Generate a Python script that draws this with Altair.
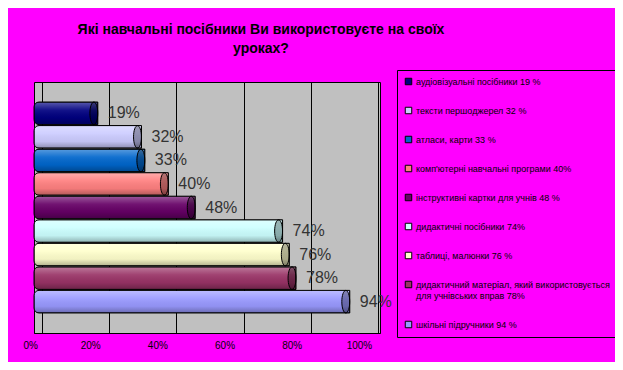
import altair as alt
import pandas as pd

labels = [
    "аудіовізуальні посібники 19 %",
    "тексти першоджерел 32 %",
    "атласи, карти 33 %",
    "комп'ютерні навчальні програми 40%",
    "інструктивні картки для учнів 48 %",
    "дидактичні посібники 74%",
    "таблиці, малюнки 76 %",
    "дидактичний матеріал, який використовується|для учнівських вправ 78%",
    "шкільні підручники 94 %",
]
values = [19, 32, 33, 40, 48, 74, 76, 78, 94]
colors = ["#000080", "#CCCCFF", "#0066CC", "#FF8080", "#660066",
          "#CCFFFF", "#FFFFCC", "#993366", "#9999FF"]
x_ticks = [0, 20, 40, 60, 80, 100]
title_lines = ["Які навчальні посібники Ви використовуєте на своїх", "уроках?"]

df = pd.DataFrame({
    "label": labels,
    "value": values,
    "pct": [f"{v}%" for v in values],
})

FONT = "Liberation Sans"

y_enc = alt.Y("label:N", sort=labels,
              scale=alt.Scale(paddingInner=0.04, paddingOuter=0.85), axis=None)
x_enc = alt.X("value:Q", scale=alt.Scale(domain=[0, 103], nice=False),
              axis=alt.Axis(values=x_ticks, labelExpr="datum.value + '%'",
                            grid=True, gridColor="black", gridWidth=1,
                            ticks=False, tickOffset=8, labelOffset=-19,
                            domainColor="black", labelFontSize=10,
                            labelFont=FONT, labelColor="black",
                            labelPadding=7, title=None))

base = alt.Chart(df)

bars = base.mark_bar(cornerRadiusTopLeft=5, cornerRadiusBottomLeft=5).encode(
    x=x_enc, y=y_enc,
    color=alt.Color("label:N", scale=alt.Scale(domain=labels, range=colors),
                    legend=alt.Legend(
                        orient="none", legendX=363, legendY=-12, title=None,
                        fillColor="#FF00FF", strokeColor="black", padding=7,
                        symbolType="square", symbolSize=42,
                        symbolStrokeColor="black", symbolStrokeWidth=1,
                        labelFont=FONT, labelFontSize=9, labelColor="black",
                        labelLimit=320, rowPadding=18, labelOffset=3,
                        labelExpr="split(datum.label, '|')")),
)

shade = base.mark_bar(
    cornerRadiusTopLeft=5, cornerRadiusBottomLeft=5,
    stroke="black", strokeWidth=1,
    fill=alt.LinearGradient(
        gradient="linear", x1=0, x2=0, y1=0, y2=1,
        stops=[alt.GradientStop(offset=0, color="rgba(255,255,255,0.35)"),
               alt.GradientStop(offset=0.35, color="rgba(255,255,255,0.08)"),
               alt.GradientStop(offset=0.7, color="rgba(0,0,0,0.05)"),
               alt.GradientStop(offset=1, color="rgba(0,0,0,0.3)")]),
).encode(x="value:Q", y=alt.Y("label:N", sort=labels))

caps = base.mark_point(
    shape="M0,-1A0.35,1,0,1,1,0,1A0.35,1,0,1,1,0,-1Z",
    size=510, filled=True, fill="black", fillOpacity=0.3,
    stroke="black", strokeOpacity=1, strokeWidth=1, xOffset=-4, opacity=1,
).encode(x="value:Q", y=alt.Y("label:N", sort=labels))

text = base.mark_text(align="left", baseline="middle", dx=10, fontSize=16,
                      font=FONT, color="#333333").encode(
    x="value:Q", y=alt.Y("label:N", sort=labels), text="pct:N")

chart = alt.layer(bars, shade, caps, text).properties(
    width=346, height=251,
    padding={"left": 26, "top": 74, "right": 235, "bottom": 29},
    autosize=alt.AutoSizeParams(type="none"),
    title=alt.TitleParams(text=title_lines, font=FONT, fontSize=14,
                          fontWeight="bold", color="black", anchor="middle",
                          frame="group", dx=54, offset=14, lineHeight=19),
).configure(background="#FF00FF").configure_view(
    fill="#C0C0C0", stroke="black", strokeWidth=1)

chart.save("out.html", embed_options={"renderer": "svg", "actions": False})
